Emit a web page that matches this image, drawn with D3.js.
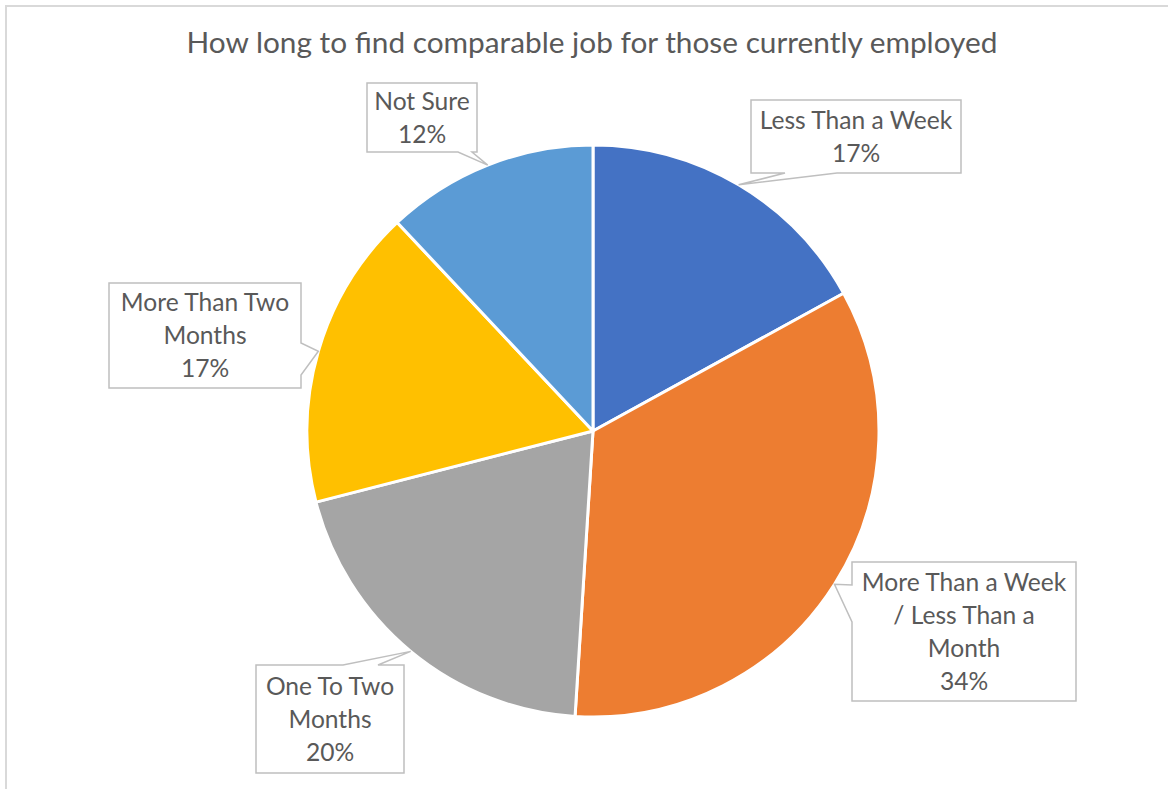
<!DOCTYPE html>
<html>
<head>
<meta charset="utf-8">
<script src="https://cdn.jsdelivr.net/npm/d3@7"></script>
<style>
  html, body { margin: 0; padding: 0; background: #fff; }
  svg { display: block; }
</style>
</head>
<body>
<svg id="chart" width="1168" height="789"></svg>
<script>
// Survey answers: time needed to find a comparable job (share of respondents, %)
const categories = [
  "Less Than a Week",
  "More Than a Week / Less Than a Month",
  "One To Two Months",
  "More Than Two Months",
  "Not Sure"
];
const values = [17, 34, 20, 17, 12];
const colors = ["#4472C4", "#ED7D31", "#A5A5A5", "#FFC000", "#5B9BD5"];
// Category names as they wrap inside each callout
const labelLines = [
  ["Less Than a Week"],
  ["More Than a Week", "/ Less Than a", "Month"],
  ["One To Two", "Months"],
  ["More Than Two", "Months"],
  ["Not Sure"]
];
const title = "How long to find comparable job for those currently employed";

// Callout boxes: rectangle, side carrying the pointer and where its base sits on that side
const callouts = [
  { x: 751, y: 100, w: 210, h: 73,  side: "bottom", b0: 837, b1: 785 },
  { x: 852, y: 562, w: 224, h: 139, side: "left",   b0: 622, b1: 585 },
  { x: 256, y: 665, w: 148, h: 108, side: "top",    b0: 343, b1: 378 },
  { x: 109, y: 283, w: 192, h: 105, side: "right",  b0: 343, b1: 375 },
  { x: 367, y: 83,  w: 110, h: 69,  side: "bottom", b0: 472, b1: 458 }
];

const svg = d3.select("#chart");
const cx = 593, cy = 431, radius = 286;
const textColor = "#595959";
const font = "Lato, 'Open Sans', sans-serif";

// Chart area frame
svg.append("rect")
  .attr("x", 6).attr("y", 6).attr("width", 1200).attr("height", 820)
  .attr("fill", "#fff").attr("stroke", "#d9d9d9").attr("stroke-width", 2);

// Title
svg.append("text")
  .attr("x", 592).attr("y", 53)
  .attr("text-anchor", "middle")
  .attr("font-family", font).attr("font-size", 29.8)
  .attr("fill", textColor)
  .text(title);

const data = categories.map((c, i) => ({ category: c, value: values[i], i }));
const pie = d3.pie().sort(null).value(d => d.value).startAngle(0).endAngle(2 * Math.PI);
const arcs = pie(data);
const arc = d3.arc().innerRadius(0).outerRadius(radius);

const g = svg.append("g").attr("transform", `translate(${cx},${cy})`);
g.selectAll("path.slice")
  .data(arcs)
  .join("path")
  .attr("class", "slice")
  .attr("d", arc)
  .attr("fill", d => colors[d.data.i])
  .attr("stroke", "#fff")
  .attr("stroke-width", 3)
  .attr("stroke-linejoin", "round");

// Callout shape: rectangle with a wedge pointing at the slice's mid-angle on the rim
function calloutPath(c, tip) {
  const x0 = c.x, y0 = c.y, x1 = c.x + c.w, y1 = c.y + c.h;
  const p = d3.path();
  p.moveTo(x0, y0);
  if (c.side === "top") { p.lineTo(c.b0, y0); p.lineTo(tip[0], tip[1]); p.lineTo(c.b1, y0); }
  p.lineTo(x1, y0);
  if (c.side === "right") { p.lineTo(x1, c.b0); p.lineTo(tip[0], tip[1]); p.lineTo(x1, c.b1); }
  p.lineTo(x1, y1);
  if (c.side === "bottom") { p.lineTo(c.b0, y1); p.lineTo(tip[0], tip[1]); p.lineTo(c.b1, y1); }
  p.lineTo(x0, y1);
  if (c.side === "left") { p.lineTo(x0, c.b0); p.lineTo(tip[0], tip[1]); p.lineTo(x0, c.b1); }
  p.closePath();
  return p.toString();
}

const pct = v => Math.round(v / d3.sum(values) * 100) + "%";
const lineH = 33;

arcs.forEach((a, k) => {
  const c = callouts[k];
  const mid = (a.startAngle + a.endAngle) / 2;
  const tip = [cx + radius * Math.sin(mid), cy - radius * Math.cos(mid)];
  svg.append("path")
    .attr("d", calloutPath(c, tip))
    .attr("fill", "#fff")
    .attr("stroke", "#bfbfbf")
    .attr("stroke-width", 1.5)
    .attr("stroke-linejoin", "miter");

  const lines = labelLines[a.data.i].concat([pct(a.data.value)]);
  const midY = c.y + c.h / 2;
  const firstBase = midY - (lines.length - 1) * lineH / 2 + 8.5;
  const t = svg.append("text")
    .attr("text-anchor", "middle")
    .attr("font-family", font).attr("font-size", 24.6)
    .attr("fill", textColor);
  lines.forEach((ln, j) => {
    t.append("tspan")
      .attr("x", c.x + c.w / 2)
      .attr("y", firstBase + j * lineH)
      .text(ln);
  });
});
</script>
</body>
</html>
